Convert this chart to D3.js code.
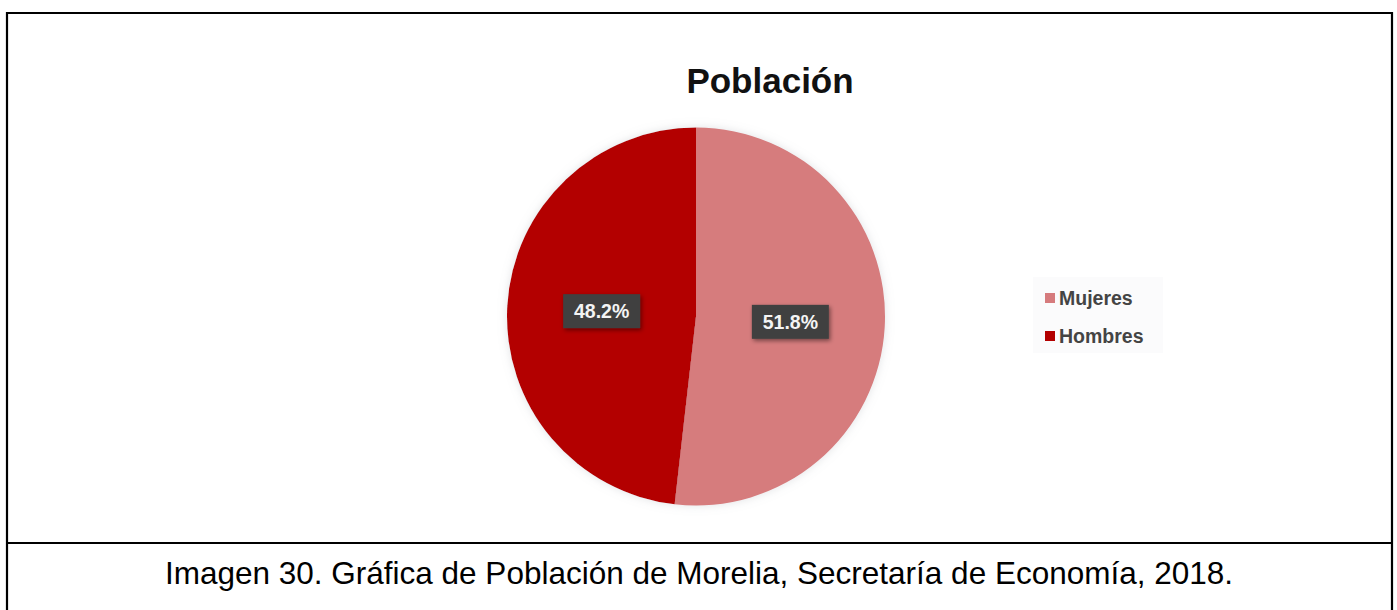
<!DOCTYPE html>
<html>
<head>
<meta charset="utf-8">
<script src="https://cdn.jsdelivr.net/npm/d3@7/dist/d3.min.js"></script>
<style>
  html, body { margin: 0; padding: 0; background: #ffffff; }
  svg { display: block; }
</style>
</head>
<body>
<svg id="chart" width="1397" height="610"></svg>
<script>
// Population of Morelia by sex (share of total, %)
const categories = ["Mujeres", "Hombres"];
const shares = [51.8, 48.2];
const sliceColors = ["#d67b7d", "#b30000"];
const chartTitle = "Población";
const caption = "Imagen 30. Gráfica de Población de Morelia, Secretaría de Economía, 2018.";

const W = 1397, H = 610;
const svg = d3.select("#chart");

// Frame of the figure: outer box and the caption row divider
const frame = svg.append("g").attr("stroke", "#000").attr("stroke-width", 2.2).attr("fill", "none");
frame.append("path").attr("d", `M7,${H} V13 H1392 V${H}`);
frame.append("line").attr("x1", 7).attr("x2", 1392).attr("y1", 543).attr("y2", 543);

// Soft shadow used by the pie and the value boxes
const defs = svg.append("defs");
const pieShadow = defs.append("filter").attr("id", "pieShadow")
  .attr("x", "-20%").attr("y", "-20%").attr("width", "140%").attr("height", "140%");
pieShadow.append("feDropShadow").attr("dx", 0).attr("dy", 0)
  .attr("stdDeviation", 5).attr("flood-color", "#9aa0a8").attr("flood-opacity", 0.3);
const boxShadow = defs.append("filter").attr("id", "boxShadow")
  .attr("x", "-30%").attr("y", "-40%").attr("width", "160%").attr("height", "180%");
boxShadow.append("feDropShadow").attr("dx", 1.5).attr("dy", 2)
  .attr("stdDeviation", 2).attr("flood-color", "#000").attr("flood-opacity", 0.45);

// Title
svg.append("text")
  .attr("x", 770).attr("y", 93)
  .attr("text-anchor", "middle")
  .attr("font-family", "Liberation Sans, Arial, sans-serif")
  .attr("font-weight", "bold").attr("font-size", 35)
  .attr("fill", "#111")
  .text(chartTitle);

// Pie
const cx = 696, cy = 316.5, R = 189;
const color = d3.scaleOrdinal().domain(categories).range(sliceColors);
const pie = d3.pie().sort(null).value(d => d.value);
const data = categories.map((c, i) => ({ name: c, value: shares[i] }));
const arcs = pie(data);
const arc = d3.arc().innerRadius(0).outerRadius(R);
const labelArc = d3.arc().innerRadius(0).outerRadius(R);

const g = svg.append("g").attr("transform", `translate(${cx},${cy})`);
g.append("g").attr("filter", "url(#pieShadow)")
  .selectAll("path").data(arcs).join("path")
  .attr("d", arc)
  .attr("fill", d => color(d.data.name));

// Value boxes at each slice centroid
const fmt = d3.format(".1f");
const labels = g.selectAll("g.lbl").data(arcs).join("g")
  .attr("class", "lbl")
  .attr("transform", d => {
    const [x, y] = labelArc.centroid(d);
    return `translate(${x},${y})`;
  });
labels.append("rect")
  .attr("x", -38.5).attr("y", -17).attr("width", 77).attr("height", 34)
  .attr("fill", "#3f3f3f")
  .attr("filter", "url(#boxShadow)");
labels.append("text")
  .attr("text-anchor", "middle").attr("dy", "0.36em")
  .attr("font-family", "Liberation Sans, Arial, sans-serif")
  .attr("font-weight", "bold").attr("font-size", 19.5)
  .attr("fill", "#f4f4f4")
  .text(d => fmt(d.data.value) + "%");

// Legend
const legend = svg.append("g").attr("transform", "translate(1045,0)");
legend.append("rect")
  .attr("x", -12).attr("y", 277).attr("width", 130).attr("height", 76)
  .attr("fill", "#fbfbfc");
const items = legend.selectAll("g.item").data(categories).join("g")
  .attr("class", "item")
  .attr("transform", (d, i) => `translate(0,${293 + i * 38})`);
items.append("rect")
  .attr("width", 10).attr("height", 10)
  .attr("fill", d => color(d));
items.append("text")
  .attr("x", 14).attr("y", 12)
  .attr("font-family", "Liberation Sans, Arial, sans-serif")
  .attr("font-weight", "bold").attr("font-size", 19.5)
  .attr("fill", "#444")
  .text(d => d);

// Caption row
svg.append("text")
  .attr("x", 699).attr("y", 584)
  .attr("text-anchor", "middle")
  .attr("font-family", "Liberation Sans, Arial, sans-serif")
  .attr("font-size", 31.5)
  .attr("fill", "#000")
  .text(caption);
</script>
</body>
</html>
